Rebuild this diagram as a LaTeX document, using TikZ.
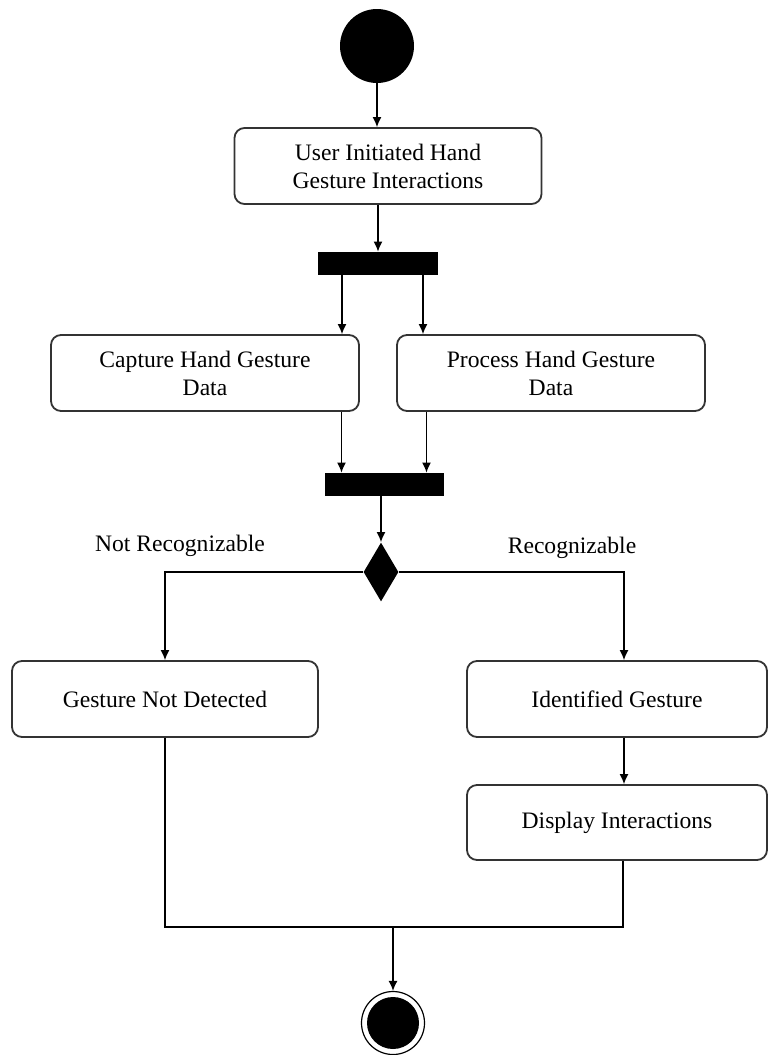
\documentclass[tikz,border=0pt]{standalone}
\usepackage{fontspec}
\setmainfont{Liberation Serif}
\usetikzlibrary{arrows.meta}
\usetikzlibrary{shapes.geometric}

\begin{document}
\begin{tikzpicture}[x=0.5pt,y=-0.5pt]
  \tikzstyle{act} = [rectangle, rounded corners=5pt, draw=black!80, line width=0.9pt, minimum width=153.5pt, minimum height=38pt, align=center, font=\fontsize{11.8}{14}\selectfont]
  \tikzstyle{bar} = [rectangle, fill=black, inner sep=0pt, minimum width=59.5pt, minimum height=11.5pt]
  \tikzstyle{flow} = [-{Latex[length=5pt,width=4.5pt]}, line width=0.65pt]
  \tikzstyle{lbl} = [font=\fontsize{11.8}{14}\selectfont]
  \useasboundingbox (0,0) rectangle (768,1055);

  \node (start) [circle, fill=black, inner sep=0pt, minimum size=37pt] at (377,46) {};
  \node (user) [act] at (388,166) {User Initiated Hand\\Gesture Interactions};
  \node (fork) [bar, minimum width=60pt] at (378,263.5) {};
  \node (capture) [act, minimum width=154pt] at (205,373) {Capture Hand Gesture\\Data};
  \node (process) [act, minimum width=154pt] at (551,373) {Process Hand Gesture\\Data};
  \node (join) [bar] at (384.5,484.5) {};
  \node (dec) [diamond, fill=black, inner sep=0pt, minimum width=17.5pt, minimum height=29.5pt] at (381,572) {};
  \node (notrec) [lbl] at (180,546) {Not Recognizable};
  \node (rec) [lbl] at (572,548) {Recognizable};
  \node (notdet) [act, minimum width=153pt] at (165,699) {Gesture Not Detected};
  \node (ident) [act, minimum width=150pt] at (617,699) {Identified Gesture};
  \node (disp) [act, minimum width=150pt, minimum height=37.5pt] at (617,822.5) {Display Interactions};
  \coordinate (merge) at (393,927);
  \node (end) [circle, draw=black, line width=0.6pt, inner sep=0pt, minimum size=31.5pt] at (393,1023) {};
  \node (endin) [circle, fill=black, inner sep=0pt, minimum size=26pt] at (end) {};

  \draw[flow] (start.south) -- (start.south |- user.north);
  \draw[flow] (user.south -| fork) -- (fork.north);
  \draw[flow] ([xshift=-18pt]fork.south) -- ([xshift=-18pt]fork.south |- capture.north);
  \draw[flow] ([xshift=22.5pt]fork.south) -- ([xshift=22.5pt]fork.south |- process.north);
  \draw[flow] ([xshift=-21.5pt]join.north |- capture.south) -- ([xshift=-21.5pt]join.north);
  \draw[flow] ([xshift=21pt]join.north |- process.south) -- ([xshift=21pt]join.north);
  \draw[flow] (join.south -| dec) -- (dec.north);
  \draw[flow] (dec.west) -| (notdet.north);
  \draw[flow] (dec.east) -| ([xshift=3.5pt]ident.north);
  \draw[flow] ([xshift=3.5pt]ident.south) -- ([xshift=3.5pt]disp.north);
  \draw[line width=0.65pt] (notdet.south) |- (merge) -| ([xshift=3pt]disp.south);
  \draw[flow] (merge) -- (end);
\end{tikzpicture}
\end{document}
